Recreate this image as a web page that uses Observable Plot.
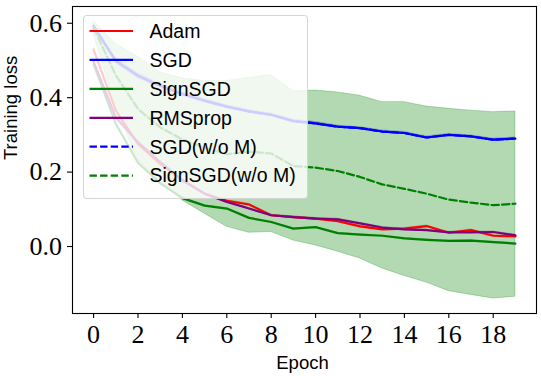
<!DOCTYPE html>
<html>
<head>
<meta charset="utf-8">
<script src="https://cdn.jsdelivr.net/npm/d3@7"></script>
<script src="https://cdn.jsdelivr.net/npm/@observablehq/plot@0.6"></script>
<style>
  html, body { margin: 0; padding: 0; background: white; }
  #wrap { position: relative; width: 541px; height: 376px; }
  #legend {
    position: absolute; left: 83px; top: 15px; width: 225px; height: 184px;
    box-sizing: border-box; border: 1px solid rgba(204,204,204,0.8); border-radius: 4px;
    background: rgba(255,255,255,0.8);
  }
  #legend svg { position: absolute; left: -1px; top: -1px; overflow: visible; }
</style>
</head>
<body>
<div id="wrap"><div id="legend"></div></div>
<script>
// ---- data ----
const epochs = [0,1,2,3,4,5,6,7,8,9,10,11,12,13,14,15,16,17,18,19];

const adam     = [0.530,0.365,0.276,0.222,0.178,0.142,0.123,0.113,0.084,0.079,0.075,0.068,0.054,0.046,0.048,0.055,0.037,0.044,0.029,0.027];
const sgd      = [0.592,0.499,0.459,0.432,0.410,0.392,0.376,0.363,0.354,0.337,0.331,0.322,0.318,0.309,0.305,0.293,0.300,0.296,0.287,0.290];
const signsgd  = [0.490,0.330,0.225,0.170,0.130,0.110,0.102,0.077,0.066,0.048,0.052,0.036,0.032,0.029,0.022,0.018,0.015,0.016,0.012,0.008];
const rmsprop  = [0.497,0.347,0.280,0.227,0.178,0.142,0.120,0.102,0.084,0.079,0.075,0.073,0.062,0.051,0.046,0.044,0.038,0.038,0.039,0.030];
const sgdNoM   = [0.592,0.499,0.459,0.432,0.410,0.392,0.376,0.363,0.354,0.337,0.331,0.322,0.318,0.309,0.305,0.293,0.300,0.296,0.287,0.290];
const signNoM  = [0.588,0.460,0.370,0.320,0.288,0.265,0.248,0.255,0.250,0.216,0.212,0.203,0.187,0.167,0.155,0.142,0.126,0.118,0.111,0.115];

// spread bands (std) for the momentum optimizers
const adamStd    = [0.006,0.006,0.005,0.004,0.004,0.003,0.003,0.003,0.003,0.003,0.003,0.003,0.003,0.003,0.003,0.003,0.003,0.003,0.003,0.003];
const sgdStd     = [0.007,0.008,0.008,0.007,0.006,0.006,0.005,0.005,0.005,0.005,0.005,0.004,0.004,0.004,0.004,0.004,0.004,0.004,0.004,0.004];
const signsgdStd = [0.004,0.004,0.003,0.003,0.003,0.002,0.002,0.002,0.002,0.002,0.002,0.002,0.002,0.002,0.002,0.002,0.002,0.002,0.002,0.002];
const rmspropStd = [0.006,0.006,0.005,0.004,0.004,0.003,0.003,0.003,0.003,0.003,0.003,0.003,0.003,0.003,0.003,0.003,0.003,0.003,0.003,0.003];

// band of SignSGD (w/o M)
const signNoMLow  = [0.570,0.376,0.230,0.175,0.124,0.088,0.053,0.037,0.039,0.016,0.003,-0.014,-0.032,-0.059,-0.079,-0.097,-0.120,-0.130,-0.140,-0.135];
const signNoMHigh = [0.606,0.544,0.510,0.468,0.452,0.445,0.445,0.453,0.461,0.417,0.419,0.414,0.405,0.388,0.388,0.376,0.370,0.365,0.361,0.363];

const names   = ["Adam","SGD","SignSGD","RMSprop","SGD(w/o M)","SignSGD(w/o M)"];
const colors  = ["#ff0000","#0000ff","#008000","#800080","#0000ff","#008000"];
const dashed  = [false,false,false,false,true,true];

const xTicks = [0,2,4,6,8,10,12,14,16,18];
const yTicks = [0.0,0.2,0.4,0.6];

// ---- build tables ----
const means = [adam, sgd, signsgd, rmsprop, sgdNoM, signNoM];
const lows  = [
  adam.map((v,i)=>v-adamStd[i]), sgd.map((v,i)=>v-sgdStd[i]),
  signsgd.map((v,i)=>v-signsgdStd[i]), rmsprop.map((v,i)=>v-rmspropStd[i]),
  null, signNoMLow
];
const highs = [
  adam.map((v,i)=>v+adamStd[i]), sgd.map((v,i)=>v+sgdStd[i]),
  signsgd.map((v,i)=>v+signsgdStd[i]), rmsprop.map((v,i)=>v+rmspropStd[i]),
  null, signNoMHigh
];

const lineRows = [], bandRows = [];
names.forEach((n, k) => {
  epochs.forEach((e, i) => {
    lineRows.push({name: n, epoch: e, loss: means[k][i]});
    if (lows[k]) bandRows.push({name: n, epoch: e, lo: lows[k][i], hi: highs[k][i]});
  });
});

const serif = "'Liberation Serif', 'DejaVu Serif', serif";
const sans  = "'Liberation Sans', Arial, sans-serif";

const bandMarks = names.map((n, k) => lows[k] ? Plot.areaY(bandRows.filter(d => d.name === n), {
  x: "epoch", y1: "lo", y2: "hi", fill: colors[k], fillOpacity: 0.3,
  stroke: colors[k], strokeOpacity: k === 5 ? 0.25 : 0, strokeWidth: 1
}) : null).filter(Boolean);

const lineMarks = names.map((n, k) => Plot.lineY(lineRows.filter(d => d.name === n), {
  x: "epoch", y: "loss", stroke: colors[k], strokeWidth: 2.2,
  strokeDasharray: dashed[k] ? "7.4,3.2" : null
}));

const chart = Plot.plot({
  width: 541, height: 376,
  marginLeft: 72, marginRight: 5, marginTop: 6, marginBottom: 63,
  style: {background: "white", overflow: "visible"},
  x: {domain: [-0.95, 19.95], label: null},
  y: {domain: [-0.18, 0.645], label: null},
  marks: [
    ...bandMarks,
    ...lineMarks,
    Plot.frame({stroke: "black", strokeWidth: 1.1}),
    Plot.axisX(xTicks, {tickSize: 5, tickPadding: 6, fontSize: 26, fontFamily: serif,
      tickFormat: d => String(d), label: null, strokeWidth: 1.1, fill: "black", stroke: "black"}),
    Plot.axisY(yTicks, {tickSize: 5, tickPadding: 5.5, fontSize: 26, fontFamily: serif,
      tickFormat: d3.format(".1f"), label: null, strokeWidth: 1.1, fill: "black", stroke: "black"}),
    Plot.text(["Epoch"], {frameAnchor: "bottom", dy: 55, dx: -2, text: d => d,
      fontSize: 18.5, fontFamily: sans, fill: "black"}),
    Plot.text(["Training loss"], {frameAnchor: "left", rotate: -90, dx: -61, text: d => d,
      fontSize: 18.5, fontFamily: sans, fill: "black"})
  ]
});
document.getElementById("wrap").insertBefore(chart, document.getElementById("legend"));

// ---- legend (inside the plot, matplotlib style) ----
const lg = d3.select("#legend").append("svg").attr("width", 225).attr("height", 184);
names.forEach((n, k) => {
  const y = 16 + k * 28.93;
  lg.append("line").attr("x1", 6.5).attr("x2", 50).attr("y1", y).attr("y2", y)
    .attr("stroke", colors[k]).attr("stroke-width", 2.2)
    .attr("stroke-dasharray", dashed[k] ? "7.4,3.2" : null);
  lg.append("text").attr("x", 66.5).attr("y", y).attr("dy", "0.35em")
    .attr("font-family", sans).attr("font-size", 19.5).attr("fill", "black").text(n);
});
</script>
</body>
</html>
